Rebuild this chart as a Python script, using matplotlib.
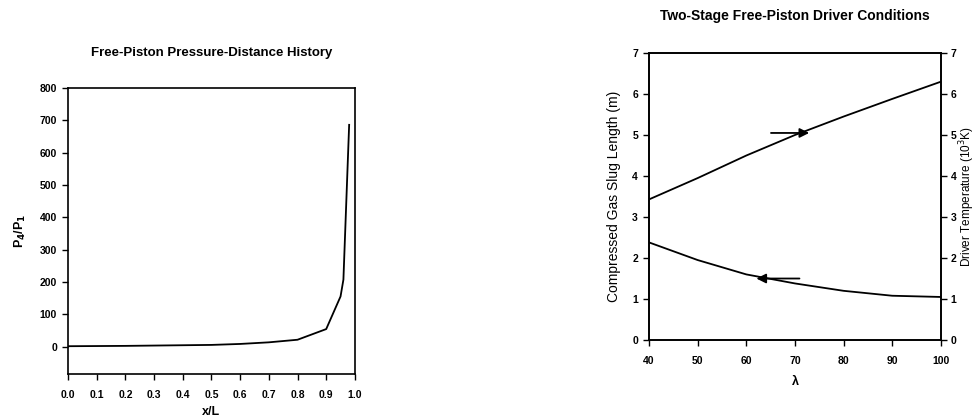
import numpy as np
import matplotlib
matplotlib.use("Agg")
import matplotlib.pyplot as plt

plt.rcParams['font.family'] = ['Liberation Sans', 'DejaVu Sans']

# datos de la historia presion-distancia
x_L = [0.0, 0.1, 0.2, 0.3, 0.4, 0.5, 0.6, 0.7, 0.8, 0.9, 0.95, 0.96, 0.98]
p_ratio = [1, 1.5, 2, 3, 4, 5, 8, 13, 21, 54, 155, 207, 686]

# condiciones del driver
lam = [40, 50, 60, 70, 80, 90, 100]
slug_len = [2.38, 1.95, 1.6, 1.38, 1.2, 1.08, 1.05]
temp = [3.43, 3.95, 4.5, 5.0, 5.45, 5.88, 6.3]

fig = plt.figure(figsize=(9.79, 4.19), dpi=100)

tick_kw = dict(direction='out', length=4.5, width=1, labelsize=7.5)

# grafico de la izquierda
ax1 = fig.add_axes([0.0695, 0.1074, 0.293, 0.6826])
ax1.plot(x_L, p_ratio, color='black', linewidth=1.3)
ax1.set_xlim(0, 1.0)
ax1.set_ylim(-85, 800)
ax1.set_xticks(np.arange(0, 1.01, 0.1))
ax1.set_xticklabels(['0.0', '0.1', '0.2', '0.3', '0.4', '0.5', '0.6', '0.7', '0.8', '0.9', '1.0'],
                    fontweight='bold')
ax1.set_yticks(range(0, 801, 100))
ax1.set_yticklabels([str(v) for v in range(0, 801, 100)], fontweight='bold')
ax1.tick_params(**tick_kw)
ax1.tick_params(axis='x', pad=7)
ax1.set_xlabel('x/L', fontsize=9, fontweight='bold', labelpad=4)
ax1.set_ylabel('P$_\\mathbf{4}$/P$_\\mathbf{1}$', fontsize=9, fontweight='bold', labelpad=8)
ax1.set_title('Free-Piston Pressure-Distance History', fontsize=9.5, fontweight='bold', pad=23)
for s in ax1.spines.values():
    s.set_linewidth(1.2)

# grafico de la derecha
ax2 = fig.add_axes([0.663, 0.1885, 0.298, 0.685])
ax2.plot(lam, slug_len, color='black', linewidth=1.3)
ax2.set_xlim(40, 100)
ax2.set_ylim(0, 7)
ax2.set_xticks(range(40, 101, 10))
ax2.set_xticklabels([str(v) for v in range(40, 101, 10)], fontweight='bold')
ax2.set_yticks(range(0, 8))
ax2.set_yticklabels([str(v) for v in range(0, 8)], fontweight='bold')
ax2.tick_params(**tick_kw)
ax2.tick_params(axis='x', pad=7)
ax2.set_xlabel('λ', fontsize=9, fontweight='bold', labelpad=7)
ax2.set_ylabel('Compressed Gas Slug Length (m)', fontsize=10, labelpad=8)
ax2.set_title('Two-Stage Free-Piston Driver Conditions', fontsize=10, fontweight='bold', pad=24)

ax3 = ax2.twinx()
ax3.plot(lam, temp, color='black', linewidth=1.3)
ax3.set_ylim(0, 7)
ax3.set_yticks(range(0, 8))
ax3.set_yticklabels([str(v) for v in range(0, 8)], fontweight='bold')
ax3.tick_params(**tick_kw)
ax3.tick_params(axis='y', pad=2.5)
ax3.set_ylabel('Driver Temperature (10$^3$K)', fontsize=8.5, labelpad=1)
for ax in (ax2, ax3):
    for s in ax.spines.values():
        s.set_linewidth(1.2)

# flechas
ax3.annotate('', xy=(73.5, 5.05), xytext=(64.5, 5.05),
             arrowprops=dict(arrowstyle='-|>', color='black', lw=1.3, mutation_scale=14))
ax2.annotate('', xy=(61.5, 1.5), xytext=(71.5, 1.5),
             arrowprops=dict(arrowstyle='-|>', color='black', lw=1.3, mutation_scale=14))

fig.savefig('out.png', dpi=100)
